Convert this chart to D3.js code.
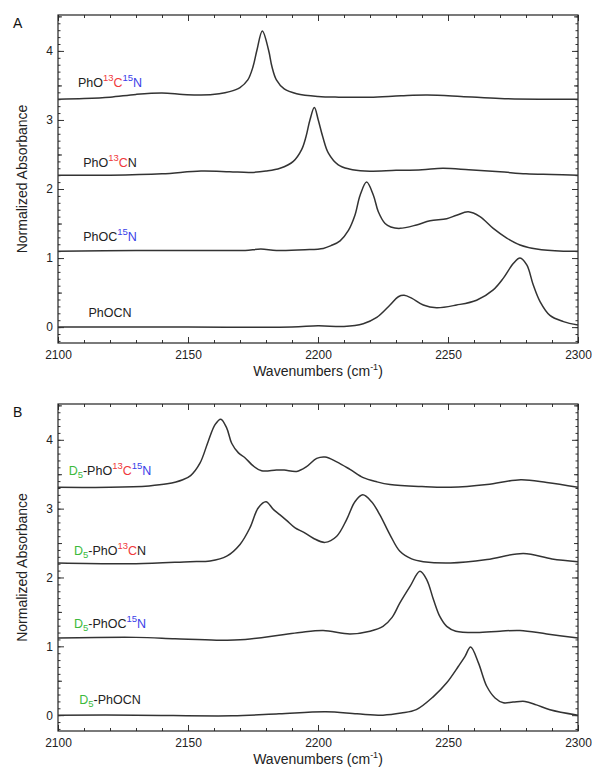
<!DOCTYPE html>
<html>
<head>
<meta charset="utf-8">
<script src="https://cdn.jsdelivr.net/npm/d3@7"></script>
<style>
  body { margin: 0; background: #fff; }
  svg { display: block; }
</style>
</head>
<body>
<script>
// axis ranges + ticks
const wavenumberDomain = [2100, 2300];
const absorbanceDomain = [-0.23, 4.52];
const xMajorTicks = [2100, 2150, 2200, 2250, 2300];
const xMinorTicks = d3.range(2100, 2301, 10);
const yMajorTicks = [0, 1, 2, 3, 4];
const yMidTicks = [0.5, 1.5, 2.5, 3.5, 4.5];
const yMinorTicks = d3.range(-2, 46).map(i => i / 10);

// panel A spectra, [wavenumber, absorbance]
const pho13c15n = [[2100,3.30],[2110,3.31],[2120,3.33],[2130,3.37],[2140,3.39],[2148,3.37],[2155,3.36],
  [2162,3.38],[2166,3.41],[2170,3.47],[2173,3.58],[2175,3.77],[2176.5,4.01],[2178.6,4.29],[2181,4.01],
  [2182.3,3.77],[2184,3.58],[2187,3.45],[2191.8,3.38],[2200,3.34],[2208,3.33],[2220,3.33],[2232,3.35],
  [2242,3.36],[2255,3.34],[2270,3.31],[2285,3.30],[2300,3.30]];
const pho13cn = [[2100,2.20],[2120,2.20],[2140,2.22],[2155,2.26],[2166,2.25],[2174,2.24],[2180,2.26],
  [2185.4,2.30],[2190.5,2.40],[2193.7,2.57],[2195.4,2.76],[2196.9,3.00],[2198.6,3.18],[2200.1,3.00],
  [2201.8,2.76],[2204,2.52],[2207.8,2.35],[2212,2.29],[2218,2.26],[2230,2.27],[2240,2.28],[2248,2.30],
  [2258,2.28],[2270,2.25],[2280,2.22],[2290,2.21],[2300,2.20]];
const phoc15n = [[2100,1.10],[2130,1.11],[2160,1.11],[2172,1.11],[2178,1.13],[2184,1.11],[2195,1.12],
  [2202,1.14],[2205,1.18],[2208.5,1.25],[2211.7,1.40],[2214.2,1.62],[2216.2,1.91],[2218.7,2.10],
  [2221.3,1.91],[2223.2,1.67],[2225.8,1.50],[2228,1.45],[2231.5,1.43],[2237.9,1.48],[2243.1,1.54],
  [2249.5,1.57],[2253.3,1.62],[2257.8,1.67],[2262.3,1.60],[2267.4,1.43],[2272.6,1.29],[2277.7,1.19],
  [2284.1,1.13],[2294.4,1.10],[2300,1.10]];
const phocn = [[2100,0.00],[2150,0.00],[2190,0.00],[2200,0.02],[2210,0.01],[2217.4,0.05],[2222.6,0.14],
  [2227.7,0.32],[2230.9,0.44],[2233.1,0.46],[2236,0.42],[2240.5,0.32],[2245.6,0.28],[2253.3,0.32],
  [2261,0.39],[2267.4,0.54],[2271.3,0.71],[2275.1,0.92],[2277.7,1.00],[2280.3,0.90],[2282.8,0.61],
  [2285.4,0.37],[2289.2,0.17],[2294.4,0.08],[2300,0.03]];

// panel B spectra (D5)
const d5pho13c15n = [[2100,3.31],[2120,3.31],[2135,3.33],[2142,3.36],[2148,3.42],[2151,3.48],
  [2154.6,3.66],[2157.8,3.98],[2160.4,4.22],[2162.6,4.30],[2164.9,4.17],[2166.8,3.95],[2169.4,3.81],
  [2171.9,3.74],[2175.1,3.62],[2178.3,3.55],[2184,3.56],[2187,3.56],[2191.8,3.54],[2195.6,3.61],
  [2199.5,3.73],[2202.7,3.75],[2207.2,3.68],[2212.3,3.57],[2217.4,3.45],[2222.6,3.39],[2227.7,3.35],
  [2240,3.32],[2251,3.31],[2265,3.35],[2278,3.42],[2288,3.38],[2300,3.31]];
const d5pho13cn = [[2100,2.21],[2130,2.20],[2150.8,2.23],[2158.5,2.24],[2164.9,2.31],[2170,2.48],
  [2173.8,2.72],[2177,3.01],[2180,3.10],[2182.8,2.99],[2185.4,2.91],[2187.9,2.83],[2191.2,2.72],
  [2194.4,2.66],[2198.2,2.57],[2202.7,2.51],[2207.2,2.60],[2211,2.84],[2214.2,3.10],[2217.2,3.20],
  [2220.6,3.10],[2223.8,2.91],[2227.7,2.62],[2231.5,2.38],[2236,2.27],[2240.5,2.23],[2251,2.21],
  [2265,2.26],[2279,2.35],[2290,2.27],[2300,2.23]];
const d5phoc15n = [[2100,1.12],[2130,1.13],[2145,1.11],[2161,1.09],[2172,1.10],[2185,1.16],[2193,1.20],
  [2202,1.23],[2212.3,1.18],[2220,1.22],[2225,1.29],[2228.5,1.42],[2231.5,1.63],[2235.4,1.87],
  [2239.2,2.09],[2241.8,1.97],[2244.4,1.68],[2246.9,1.43],[2249.5,1.29],[2253,1.22],[2261,1.20],
  [2270,1.22],[2277.7,1.23],[2288,1.18],[2300,1.12]];
const d5phocn = [[2100,0.00],[2130,0.00],[2167,-0.01],[2185,0.02],[2203,0.05],[2215,0.02],[2225,0.00],
  [2232,0.03],[2237.8,0.08],[2244.4,0.27],[2249.5,0.47],[2254,0.71],[2256.5,0.85],[2258.7,0.99],
  [2261.7,0.76],[2264.9,0.42],[2268.1,0.25],[2271.3,0.18],[2275,0.19],[2279.6,0.20],[2284,0.15],
  [2289.2,0.08],[2300,0.00]];

// label text pieces: [text, kind, colour]
const RED = "#f0393c", BLUE = "#3a3ee8", GREEN = "#3cba3c", INK = "#222";
const labelsA = [
  [["PhO","n",INK],["13","sup",RED],["C","n",RED],["15","sup",BLUE],["N","n",BLUE]],
  [["PhO","n",INK],["13","sup",RED],["C","n",RED],["N","n",INK]],
  [["PhOC","n",INK],["15","sup",BLUE],["N","n",BLUE]],
  [["PhOCN","n",INK]]
];
const labelsB = [
  [["D","n",GREEN],["5","sub",GREEN],["-PhO","n",INK],["13","sup",RED],["C","n",RED],["15","sup",BLUE],["N","n",BLUE]],
  [["D","n",GREEN],["5","sub",GREEN],["-PhO","n",INK],["13","sup",RED],["C","n",RED],["N","n",INK]],
  [["D","n",GREEN],["5","sub",GREEN],["-PhOC","n",INK],["15","sup",BLUE],["N","n",BLUE]],
  [["D","n",GREEN],["5","sub",GREEN],["-PhOCN","n",INK]]
];
const labelXA = 2120, labelXB = 2120;
const labelYA = [3.48, 2.32, 1.24, 0.15];
const labelYB = [3.49, 2.33, 1.26, 0.16];

const W = 592, H = 770;
const svg = d3.select("body").append("svg").attr("width", W).attr("height", H)
  .style("font-family", "'Liberation Sans', Arial, sans-serif");

const line = d3.line().curve(d3.curveCatmullRom.alpha(0.5));

function drawPanel(top, bottom, letter, spectra, labels, labelX, labelY) {
  const x = d3.scaleLinear().domain(wavenumberDomain).range([58, 578]);
  const y = d3.scaleLinear().domain(absorbanceDomain).range([bottom, top]);
  const g = svg.append("g");

  // ticks, all pointing inwards
  const tickSets = [
    [d3.axisBottom(x).tickValues(xMinorTicks).tickSize(-3).tickFormat(""), `translate(0,${bottom})`],
    [d3.axisBottom(x).tickValues(xMajorTicks).tickSize(-6).tickPadding(7).tickFormat(d3.format("d")), `translate(0,${bottom})`],
    [d3.axisTop(x).tickValues(xMinorTicks).tickSize(-3).tickFormat(""), `translate(0,${top})`],
    [d3.axisTop(x).tickValues(xMajorTicks).tickSize(-6).tickFormat(""), `translate(0,${top})`],
    [d3.axisLeft(y).tickValues(yMinorTicks).tickSize(-2.5).tickFormat(""), "translate(58,0)"],
    [d3.axisLeft(y).tickValues(yMidTicks).tickSize(-4).tickFormat(""), "translate(58,0)"],
    [d3.axisLeft(y).tickValues(yMajorTicks).tickSize(-6).tickPadding(5).tickFormat(d3.format("d")), "translate(58,0)"],
    [d3.axisRight(y).tickValues(yMinorTicks).tickSize(-2.5).tickFormat(""), "translate(578,0)"],
    [d3.axisRight(y).tickValues(yMidTicks).tickSize(-4).tickFormat(""), "translate(578,0)"],
    [d3.axisRight(y).tickValues(yMajorTicks).tickSize(-6).tickFormat(""), "translate(578,0)"]
  ];
  tickSets.forEach(([ax, tr]) => {
    const a = g.append("g").attr("transform", tr).call(ax);
    a.select(".domain").remove();
    a.selectAll("line").attr("stroke", "#333");
    a.selectAll("text").attr("font-size", 12).attr("fill", "#222")
      .attr("font-family", "'Liberation Sans', Arial, sans-serif");
  });

  g.append("rect")
    .attr("x", 58).attr("y", top).attr("width", 520).attr("height", bottom - top)
    .attr("fill", "none").attr("stroke", "#222").attr("stroke-width", 1.2);

  spectra.forEach(s => {
    g.append("path")
      .attr("d", line(s.map(d => [x(d[0]), y(d[1])])))
      .attr("fill", "none").attr("stroke", "#333").attr("stroke-width", 1.5);
  });

  labels.forEach((parts, i) => {
    const t = g.append("text")
      .attr("x", x(labelX)).attr("y", y(labelY[i]))
      .attr("text-anchor", "middle").attr("font-size", 12.5);
    let shift = 0;
    parts.forEach(([txt, kind, col]) => {
      const target = kind === "sup" ? -6 : kind === "sub" ? 3 : 0;
      t.append("tspan").text(txt)
        .attr("dy", target - shift)
        .attr("font-size", kind === "n" ? 12.5 : 9.5)
        .attr("fill", col);
      shift = target;
    });
  });

  // panel letter
  g.append("text").attr("x", 13).attr("y", top + 13).attr("font-size", 14).attr("fill", "#111").text(letter);

  // axis titles
  g.append("text")
    .attr("transform", `translate(26.5,${(top + bottom) / 2}) rotate(-90)`)
    .attr("text-anchor", "middle").attr("font-size", 14).attr("fill", "#222")
    .text("Normalized Absorbance");
  const xt = g.append("text")
    .attr("x", 318).attr("y", bottom + 33)
    .attr("text-anchor", "middle").attr("font-size", 14).attr("fill", "#222");
  xt.append("tspan").text("Wavenumbers (cm");
  xt.append("tspan").text("-1").attr("font-size", 9).attr("dy", -6);
  xt.append("tspan").text(")").attr("dy", 6);
}

drawPanel(15, 343, "A", [pho13c15n, pho13cn, phoc15n, phocn], labelsA, labelXA, labelYA);
drawPanel(404, 731, "B", [d5pho13c15n, d5pho13cn, d5phoc15n, d5phocn], labelsB, labelXB, labelYB);
</script>
</body>
</html>
